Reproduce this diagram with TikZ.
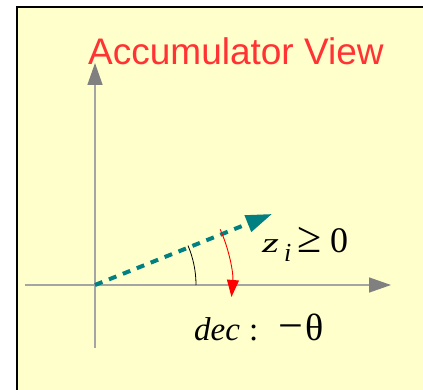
\documentclass[tikz,border=0pt]{standalone}
\usepackage{fontspec}
\setmainfont{Liberation Serif}
\newfontfamily\titlefont{Liberation Sans}
\usetikzlibrary{arrows.meta,calc}
\definecolor{bgyellow}{RGB}{255,255,204}
\definecolor{titlered}{RGB}{255,51,51}
\definecolor{axisgray}{RGB}{165,165,165}
\definecolor{headgray}{RGB}{128,128,128}
\definecolor{tealc}{RGB}{0,128,128}
\newcommand{\fs}[1]{\fontsize{#1}{#1}\selectfont}
\begin{document}
\begin{tikzpicture}[x=1pt,y=-1pt,
  axis/.style={draw=axisgray,line width=1.5pt,-{Triangle[length=22pt,width=15pt,color=headgray]}},
  vec/.style={draw=tealc,line width=4pt,dash pattern=on 8pt off 7pt,-{Triangle[length=26pt,width=17pt,color=tealc]}},
  anglearc/.style={draw=black,line width=0.8pt},
  decarc/.style={draw=red,line width=0.9pt,-{Triangle[length=17pt,width=12pt,color=red]}},
  lbl/.style={anchor=base west,inner sep=0pt}]
\useasboundingbox (0,0) rectangle (423,390);
\fill[bgyellow] (17,7) rectangle (423,390);
\draw[black,line width=1.5pt] (17,391) -- (17,7) -- (424,7);
\coordinate (O) at (95,285);
\coordinate (ytop) at (95,63);
\coordinate (ybot) at (95,348);
\coordinate (xl) at (25,285);
\coordinate (xr) at (391,285);
\coordinate (T) at (272,214);
\coordinate (A1) at ($(O)+(101,0)$);
\coordinate (R1) at ($(O)+(-24:137)$);
\draw[axis] (ybot) -- (ytop);
\draw[axis] (xl) -- (xr);
\draw[vec] (O) -- (T);
\draw[anglearc] (A1) arc[start angle=0,end angle=-23,radius=101];
\draw[decarc] (R1) arc[start angle=-24,end angle=5,radius=137];
\node[lbl,text=titlered,font=\titlefont\fs{37}] (title) at (88,65) {Accumulator View};
\node[lbl] (zi) at (262,252) {\makebox[22pt][l]{\fs{28}\scalebox{1.55}[1]{\textit{z}}}\makebox[13pt][l]{\raisebox{-9.5pt}{\fs{26}\textit{i}}}\makebox[33pt][l]{\fs{44}≥}{\fs{36}0}};
\node[lbl] (dec) at (194,340) {\makebox[55pt][l]{\fs{33}\textit{dec}}\makebox[29pt][l]{\fs{33}:}\makebox[27pt][l]{\fs{44}−}{\fs{38}θ}};
\end{tikzpicture}
\end{document}
